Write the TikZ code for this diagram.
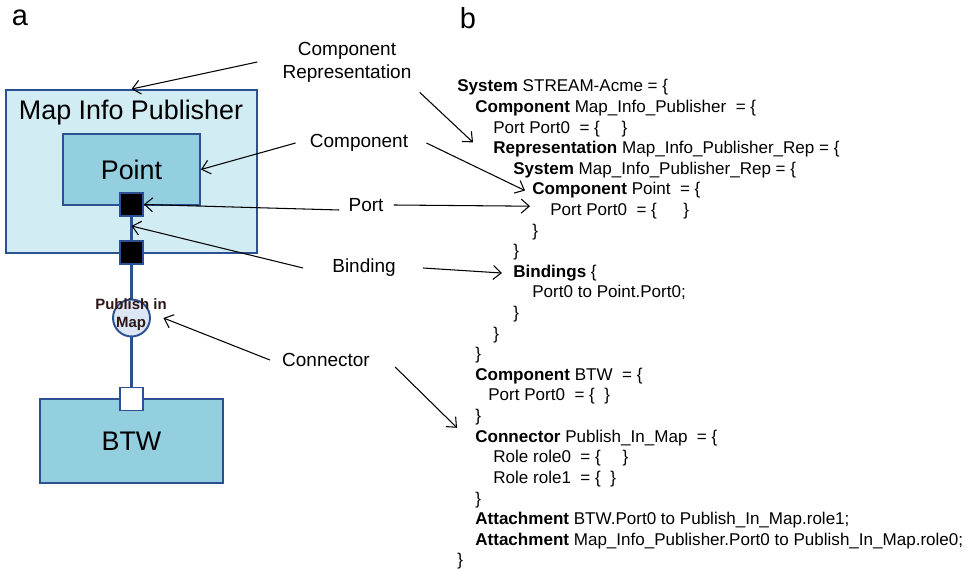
\documentclass[tikz,border=0pt]{standalone}
\usepackage{fontspec}
\setmainfont{Liberation Sans}
\usepackage{tikz}
\usetikzlibrary{arrows.meta,positioning}
\definecolor{boxblue}{HTML}{2B5192}
\definecolor{outerfill}{HTML}{D2ECF3}
\definecolor{innerfill}{HTML}{93CFDF}
\definecolor{connfill}{HTML}{DCE6F4}
\definecolor{conntext}{HTML}{2E1616}
\newcommand{\kw}[1]{\textbf{#1}}

\begin{document}
\begin{tikzpicture}[x=0.02cm, y=-0.02cm,
    repbox/.style={draw=boxblue, line width=1.1pt, fill=outerfill, inner sep=0},
    compbox/.style={draw=boxblue, line width=1.1pt, fill=innerfill, inner sep=0, font=\fontsize{15.3}{18}\selectfont},
    portbox/.style={draw=boxblue, line width=1pt, fill=black, minimum size=0.46cm, inner sep=0},
    rolebox/.style={draw=boxblue, line width=1pt, fill=white, minimum size=0.46cm, inner sep=0},
    connbox/.style={circle, draw=boxblue, line width=1.1pt, fill=connfill, minimum size=0.74cm, inner sep=0},
    link/.style={boxblue, line width=1.3pt},
    callout/.style={font=\fontsize{10.8}{13}\selectfont, align=center, inner sep=0},
    callarrow/.style={-{Straight Barb[length=1.6mm,width=2.8mm]}, line width=0.6pt},
    code/.style={font=\fontsize{9.7}{11.7}\selectfont, anchor=base west, inner sep=0},
    panel/.style={font=\fontsize{16.5}{20}\selectfont}]
    \useasboundingbox (0,0) rectangle (970,570);

    % Panel letters
    \node[panel] (pa) at (20,18) {a};
    \node[panel] (pb) at (468,18) {b};

    % === Left side: architecture view ===
    \node[repbox, minimum width=5.02cm, minimum height=3.26cm] (mip) at (131.5,171.5) {};
    \node[font=\fontsize{15.3}{18}\selectfont] (mipname) at (131,113) {Map Info Publisher};
    \node[compbox, minimum width=2.74cm, minimum height=1.42cm] (point) at (131.5,169.5) {Point};
    \node[compbox, minimum width=3.66cm, minimum height=1.68cm] (btw) at (131.5,441) {BTW};

    % Ports and connector
    \node[portbox] (port) at (131.5,204.5) {};
    \node[portbox] (bport) at (131.5,252.5) {};
    \node[connbox] (pim) at (131.5,318) {};
    \node[rolebox] (role) at (131.5,399) {};
    \coordinate (bind) at (131.5,226);

    \draw[link] (port) -- (bport);
    \draw[link] (bport) -- (pim);
    \draw[link] (pim) -- (role);
    \node[font=\fontsize{8.5}{10.2}\selectfont\bfseries, color=conntext, align=center, inner sep=0] (pimname) at (131,315) {Publish in\\Map};

    % Labels in the middle
    \node[callout] (lrep) at (347,62) {Component\\Representation};
    \node[callout] (lcomp) at (359,143) {Component};
    \node[callout] (lport) at (366,205) {Port};
    \node[callout] (lbind) at (364,268) {Binding};
    \node[callout] (lconn) at (326,360) {Connector};

    % === Right side: textual description ===
    \node[code] (L1) at (457,92) {\kw{System} STREAM-Acme = \{};
    \node[code] (L2) at (475,112.6) {\kw{Component} Map\_Info\_Publisher \ = \{};
    \node[code] (L3) at (493,133.2) {Port Port0 \ = \{ \quad \}};
    \node[code] (L4) at (493,153.8) {\kw{Representation} Map\_Info\_Publisher\_Rep = \{};
    \node[code] (L5) at (513,174.4) {\kw{System} Map\_Info\_Publisher\_Rep = \{};
    \node[code] (L6) at (532,195) {\kw{Component} Point \ = \{};
    \node[code] (L7) at (550,215.6) {Port Port0 \ = \{ \quad\ \}};
    \node[code] (L8) at (532,236.2) {\}};
    \node[code] (L9) at (513,256.8) {\}};
    \node[code] (L10) at (513,277.4) {\kw{Bindings} \{};
    \node[code] (L11) at (532,298) {Port0 to Point.Port0;};
    \node[code] (L12) at (513,318.6) {\}};
    \node[code] (L13) at (493,339.2) {\}};
    \node[code] (L14) at (475,359.8) {\}};
    \node[code] (L15) at (475,380.4) {\kw{Component} BTW \ = \{};
    \node[code] (L16) at (488,401) {Port Port0 \ = \{ \ \}};
    \node[code] (L17) at (475,421.6) {\}};
    \node[code] (L18) at (475,442.2) {\kw{Connector} Publish\_In\_Map \ = \{};
    \node[code] (L19) at (493,462.8) {Role role0 \ = \{ \quad \}};
    \node[code] (L20) at (493,483.4) {Role role1 \ = \{ \ \}};
    \node[code] (L21) at (475,504) {\}};
    \node[code] (L22) at (475,524.6) {\kw{Attachment} BTW.Port0 to Publish\_In\_Map.role1;};
    \node[code] (L23) at (475,545.2) {\kw{Attachment} Map\_Info\_Publisher.Port0 to Publish\_In\_Map.role0;};
    \node[code] (L24) at (457,565.8) {\}};

    % Arrows to the picture
    \draw[callarrow] ([xshift=-0.5cm]lrep.west) -- (mip.north);
    \draw[callarrow] ([xshift=-0.28cm]lcomp.west) -- (point.east);
    \draw[callarrow] ([xshift=-0.18cm,yshift=-0.1cm]lport.west) -- (port.east);
    \draw[callarrow] ([xshift=-0.58cm]lbind.west) -- (bind);
    \draw[callarrow] ([xshift=-0.24cm]lconn.west) -- ([xshift=0.25cm]pim.east);

    % Arrows to the text
    \draw[callarrow] ([xshift=0.16cm,yshift=-0.2cm]lrep.south east) -- ([xshift=-0.4cm,yshift=0.14cm]L4.west);
    \draw[callarrow] ([xshift=0.36cm]lcomp.east) -- ([xshift=-0.14cm]L6.west);
    \draw[callarrow] ([xshift=0.2cm]lport.east) -- ([xshift=-0.4cm,yshift=0.1cm]L7.west);
    \draw[callarrow] ([xshift=0.54cm]lbind.east) -- ([xshift=-0.22cm]L10.west);
    \draw[callarrow] ([xshift=0.5cm,yshift=-0.14cm]lconn.east) -- ([xshift=-0.36cm,yshift=0.2cm]L18.west);
\end{tikzpicture}
\end{document}
